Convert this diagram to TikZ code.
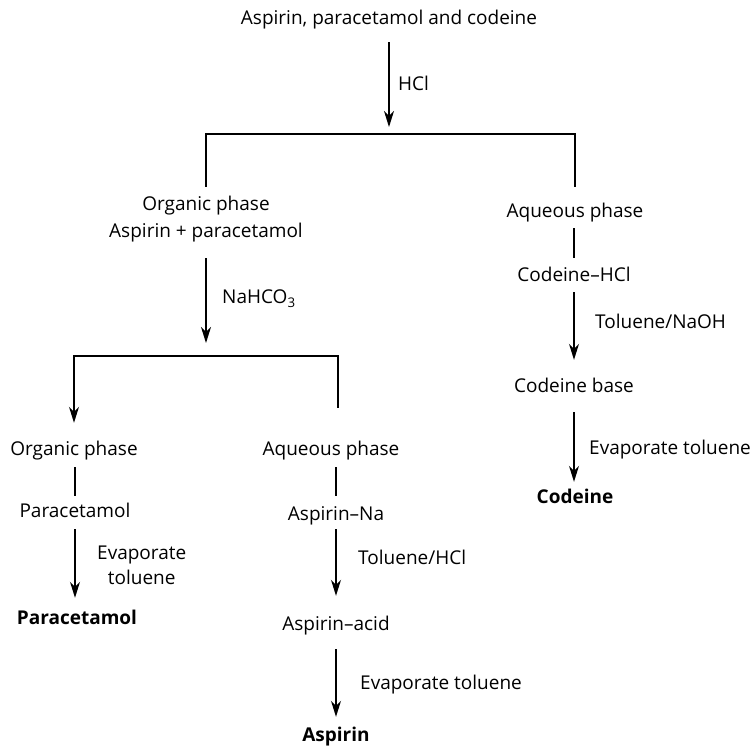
\documentclass[tikz,border=0pt]{standalone}
\usepackage{fontspec}
\setmainfont{Open Sans}
\usetikzlibrary{arrows.meta}
\begin{document}
\begin{tikzpicture}[x=1pt,y=-1pt,
  every node/.style={font=\fontsize{19}{25}\selectfont},
  txt/.style={inner xsep=0pt,inner ysep=0pt,text height=12pt,text depth=4pt},
  lab/.style={inner sep=0pt,anchor=west,align=left},
  conn/.style={line width=1.3pt,black},
  arr/.style={conn,-{Stealth[length=16pt,width=10pt,inset=5pt]}}]
\useasboundingbox (0,0) rectangle (756,749);
% nodes
\node[txt] (title) at (389,21) {Aspirin, paracetamol and codeine};
\node[txt] (omid1) at (206,207) {Organic phase};
\node[txt] (omid2) at (206,234) {Aspirin + paracetamol};
\node[txt] (aq1) at (575,214) {Aqueous phase};
\node[txt] (cohcl) at (574,277) {Codeine--HCl};
\node[txt] (cobase) at (574,388) {Codeine base};
\node[txt,font=\fontsize{19}{25}\selectfont\bfseries] (codeine) at (575,499) {Codeine};
\node[txt] (org2) at (74,451) {Organic phase};
\node[txt] (para1) at (75,513) {Paracetamol};
\node[txt,font=\fontsize{19}{25}\selectfont\bfseries] (parab) at (77,620) {Paracetamol};
\node[txt] (aq2) at (331,451) {Aqueous phase};
\node[txt] (asna) at (336,516) {Aspirin--Na};
\node[txt] (asac) at (336,626) {Aspirin--acid};
\node[txt,font=\fontsize{19}{25}\selectfont\bfseries] (asp) at (336,737) {Aspirin};
% labels
\node[lab] (lhcl) at (398,83) {HCl};
\node[lab] (lnahco) at (222,299) {NaHCO\textsubscript{3}};
\node[lab,align=center] (levap1) at (97,565) {Evaporate\\toluene};
\node[lab] (ltolhcl) at (358,557) {Toluene/HCl};
\node[lab] (levap2) at (360,685) {Evaporate toluene};
\node[lab] (ltolnaoh) at (595,321) {Toluene/NaOH};
\node[lab] (levap3) at (589,450) {Evaporate toluene};
% split coordinates
\coordinate (c1) at (389,134);
\coordinate (b1l) at (206,134);
\coordinate (b1r) at (575,134);
\coordinate (c2) at (206,356);
\coordinate (b2l) at (74,356);
\coordinate (b2r) at (338,356);
% connectors
\draw[arr,shorten <=13pt,shorten >=7pt] (title.south -| c1) -- (c1);
\draw[conn,shorten <=12pt,shorten >=19pt] (omid1.north) -- (b1l) -- (b1r) -- (aq1.north);
\draw[arr,shorten <=16pt,shorten >=13pt] (omid2.south) -- (c2);
\draw[arr,shorten <=35pt,shorten >=20pt] (aq2.north -| b2r) -- (b2r) -- (b2l) -- (org2.north -| b2l);
\draw[conn,shorten <=8pt,shorten >=9pt] (org2.south -| para1) -- (para1.north);
\draw[arr,shorten <=8pt,shorten >=14pt] (para1.south) -- (parab.north -| para1);
\draw[conn,shorten <=8pt,shorten >=12pt] (aq2.south -| asna) -- (asna.north);
\draw[arr,shorten <=5pt,shorten >=22pt] (asna.south) -- (asac.north);
\draw[arr,shorten <=15pt,shorten >=12pt] (asac.south) -- (asp.north);
\draw[conn,shorten <=6pt,shorten >=11pt] (aq1.south -| cohcl) -- (cohcl.north);
\draw[arr,shorten <=7pt,shorten >=20pt] (cohcl.south) -- (cobase.north);
\draw[arr,shorten <=16pt,shorten >=9pt] (cobase.south) -- (codeine.north -| cobase);
\end{tikzpicture}
\end{document}
